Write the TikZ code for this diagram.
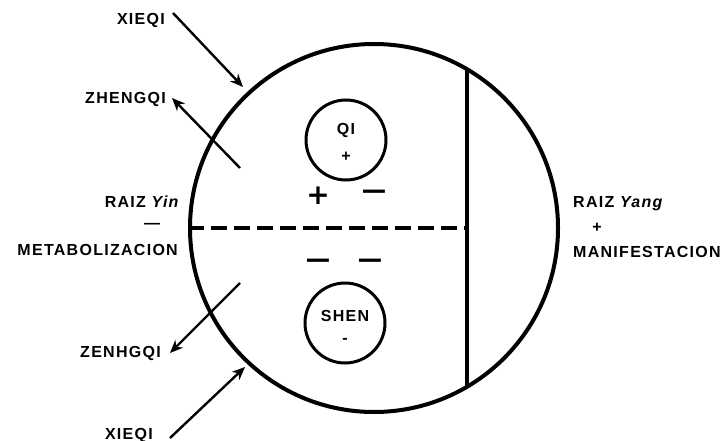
\documentclass[tikz,border=0pt]{standalone}
\usepackage{fontspec}
\setmainfont{Liberation Sans}[LetterSpace=8]
\newfontfamily\signfont{DejaVu Sans}
\usetikzlibrary{arrows.meta}
\begin{document}
\begin{tikzpicture}[x=1pt,y=-1pt,
  lbl/.style={font=\bfseries\fontsize{16}{18}\selectfont, inner sep=0pt},
  sign/.style={font=\signfont\bfseries\fontsize{28}{30}\selectfont, inner sep=0pt},
  arr/.style={line width=2.4pt, -{Stealth[length=13pt,width=11pt]}},
  ring/.style={draw, circle, line width=3pt, inner sep=0pt}]
\useasboundingbox (0,0) rectangle (725,441);
% big circle
\node[ring, line width=4pt, minimum size=368pt] (big) at (374,228) {};
% vertical line and dashed line
\coordinate (vtop) at (467,69);
\coordinate (vbot) at (467,387);
\coordinate (dmid) at (467,228);
\draw[line width=3.2pt] (vtop) -- (vbot);
\draw[line width=4.5pt, dash pattern=on 16pt off 7pt] (big.west) -- (dmid);
% inner circles
\node[ring, minimum size=80pt] (qi) at (346,140) {};
\node[lbl] (qit) at (346,130) {QI};
\node[lbl] (qis) at (346,157) {+};
\node[ring, minimum size=80pt] (shen) at (345,323) {};
\node[lbl] (shent) at (345,316) {SHEN};
\node[lbl] (shens) at (345,341) {-};
% signs
\node[sign] (p1) at (318,196) {+};
\node[sign] (m1) at (374,195) {\scalebox{1.25}[1]{−}};
\node[sign] (m2) at (318,264) {\scalebox{1.25}[1]{−}};
\node[sign] (m3) at (370,264) {\scalebox{1.25}[1]{−}};
% left labels
\node[lbl, anchor=east] (xieqi1) at (165,20) {XIEQI};
\node[lbl, anchor=east] (zheng) at (166,99) {ZHENGQI};
\node[lbl, anchor=east] (raizyin) at (180,202) {RAIZ \textit{Yin}};
\node[lbl] (minus) at (152,226) {—};
\node[lbl, anchor=east] (metab) at (178,250) {METABOLIZACION};
\node[lbl, anchor=east] (zenh) at (161,353) {ZENHGQI};
\node[lbl, anchor=east] (xieqi2) at (153,435) {XIEQI};
% right labels
\node[lbl, anchor=west] (raizyang) at (573,204) {RAIZ \textit{Yang}};
\node[lbl] (plus) at (597,228) {+};
\node[lbl, anchor=west] (manif) at (573,252) {MANIFESTACION};
% arrows
\coordinate (a1s) at (173,13);
\coordinate (a1e) at (243,87);
\coordinate (a2s) at (240,168);
\coordinate (a2e) at (172,98);
\coordinate (a3s) at (240,283);
\coordinate (a3e) at (170,353);
\coordinate (a4s) at (170,438);
\coordinate (a4e) at (245,367);
\draw[arr] (a1s) -- (a1e);
\draw[arr] (a2s) -- (a2e);
\draw[arr] (a3s) -- (a3e);
\draw[arr] (a4s) -- (a4e);
\end{tikzpicture}
\end{document}
